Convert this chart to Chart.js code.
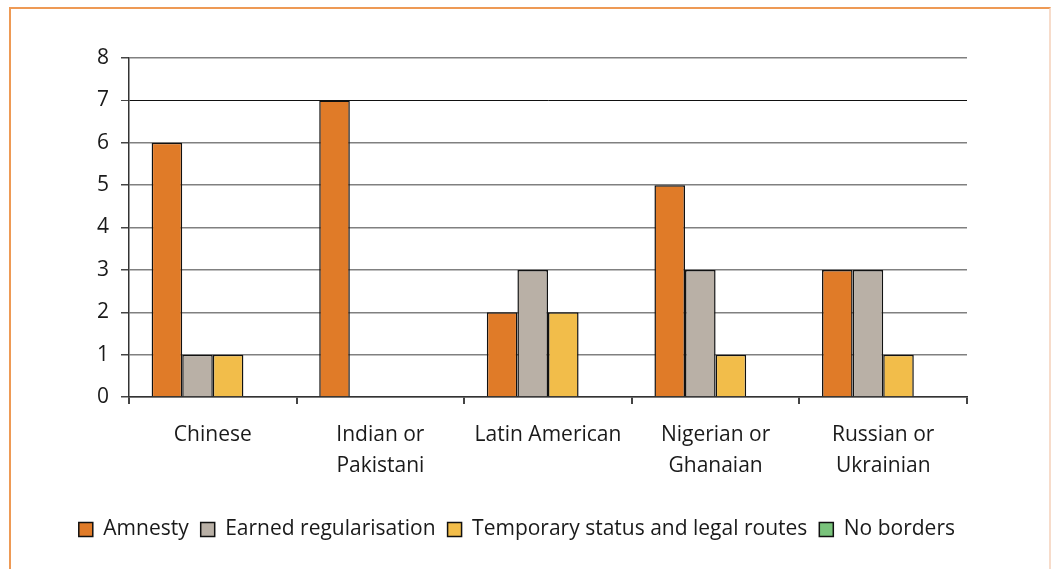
<!DOCTYPE html>
<html>
<head>
<meta charset="utf-8">
<script src="https://cdn.jsdelivr.net/npm/chart.js@4"></script>
<style>
  html, body { margin: 0; padding: 0; background: #fff; }
  #frame {
    position: absolute; left: 9px; top: 7px; width: 1038px; height: 600px;
    border-left: 2px solid #EE9A55; border-top: 2px solid #EE9A55; border-right: 2px solid #F7DCCB;
  }
  #wrap { position: absolute; left: 0; top: 0; width: 1052px; height: 569px; }
</style>
</head>
<body>
<div id="frame"></div>
<div id="wrap"><canvas id="myBarChart" width="1052" height="569"></canvas></div>
<script>
const categories = ['Chinese', ['Indian or', 'Pakistani'], 'Latin American', ['Nigerian or', 'Ghanaian'], ['Russian or', 'Ukrainian']];
const amnesty = [6, 7, 2, 5, 3];
const earned = [1, 0, 3, 3, 3];
const temporary = [1, 0, 2, 1, 1];
const noBorders = [0, 0, 0, 0, 0];
const yTicks = [0, 1, 2, 3, 4, 5, 6, 7, 8];

document.addEventListener('DOMContentLoaded', () => {
  Chart.defaults.font.family = '"Open Sans", "Noto Sans", sans-serif';
  Chart.defaults.color = '#1a1a1a';

  var ctx = document.getElementById('myBarChart').getContext('2d');

  var chart = new Chart(ctx, {
    type: 'bar',
    data: {
      labels: categories,
      datasets: [
        { label: 'Amnesty', data: amnesty, backgroundColor: '#E07B28' },
        { label: 'Earned regularisation', data: earned, backgroundColor: '#B9B0A6' },
        { label: 'Temporary status and legal routes', data: temporary, backgroundColor: '#F2BD4A' },
        { label: 'No borders', data: noBorders, backgroundColor: '#79C37B' }
      ].map(d => Object.assign(d, { borderColor: '#111', borderWidth: 1.5, barPercentage: 1, categoryPercentage: 0.73 }))
    },
    options: {
      responsive: false,
      animation: false,
      layout: { padding: { left: 60, right: 85, top: 58, bottom: 19 } },
      plugins: {
        tooltip: { enabled: false },
        legend: {
          position: 'bottom',
          align: 'end',
          labels: {
            boxWidth: 14, boxHeight: 14, padding: 12,
            font: { size: 21 }, color: '#1a1a1a'
          }
        }
      },
      scales: {
        x: {
          afterFit: axis => { axis.height = 110; },
          grid: {
            drawOnChartArea: true,
            color: c => c.index === categories.length ? '#8a8a8a' : 'rgba(0,0,0,0)',
            lineWidth: 2,
            tickColor: '#444',
            tickLength: 7,
            offset: true
          },
          border: { color: '#333', width: 1.5 },
          ticks: { font: { size: 21, lineHeight: 1.5 }, color: '#1a1a1a', padding: 15, maxRotation: 0 }
        },
        y: {
          min: 0, max: 8,
          afterFit: axis => { axis.width = 69; },
          afterBuildTicks: axis => { axis.ticks = yTicks.map(v => ({ value: v })); },
          grid: {
            color: c => c.index === 7 ? '#111' : '#808080',
            lineWidth: c => c.index === 7 ? 1 : 1.5,
            tickColor: '#444', tickLength: 8
          },
          border: { color: '#333', width: 1.5 },
          ticks: { font: { size: 21 }, color: '#1a1a1a', padding: 12 }
        }
      }
    }
  });
});
</script>
</body>
</html>
